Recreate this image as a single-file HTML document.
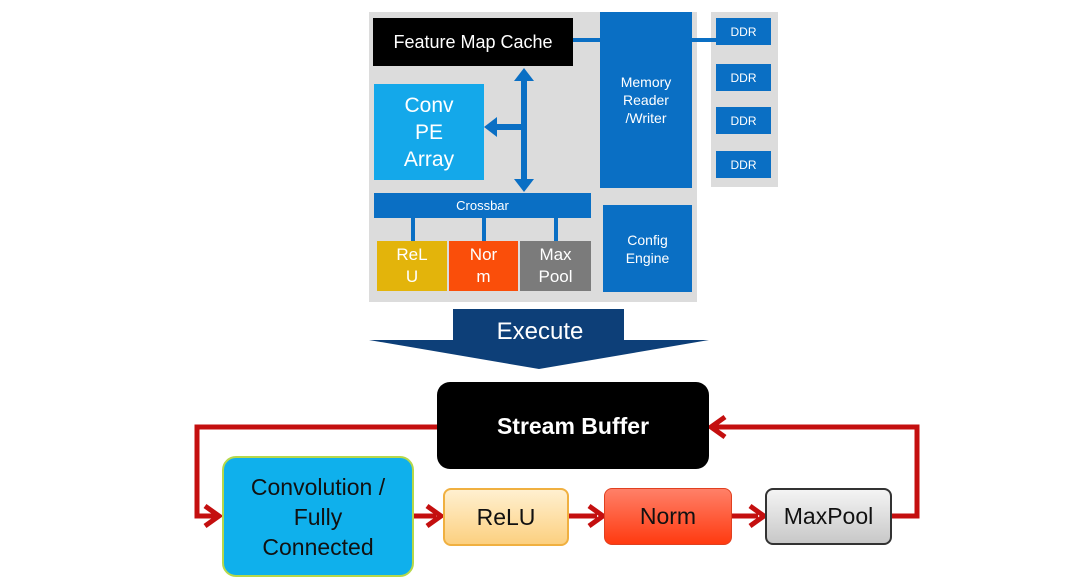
<!DOCTYPE html>
<html><head><style>
body{margin:0;width:1080px;height:582px;background:#fff;position:relative;overflow:hidden;font-family:"Liberation Sans",sans-serif}
.a{position:absolute;box-sizing:border-box;display:flex;align-items:center;justify-content:center;text-align:center;color:#fff}
.b{background:#0a6fc4}
</style></head><body>
<div class="a" style="left:369px;top:12px;width:328px;height:290px;background:#dcdcdc"></div>
<div class="a" style="left:711px;top:12px;width:67px;height:175px;background:#dcdcdc"></div>
<div class="a" style="left:570px;top:38px;width:146px;height:4px;background:#0a6fc4"></div>
<div class="a" style="left:373px;top:18px;width:200px;height:48px;background:#000;font-size:18px">Feature Map Cache</div>
<div class="a b" style="left:600px;top:12px;width:92px;height:176px;font-size:14px;line-height:18px">Memory<br>Reader<br>/Writer</div>
<div class="a b" style="left:716px;top:18px;width:55px;height:27px;font-size:12px">DDR</div>
<div class="a b" style="left:716px;top:64px;width:55px;height:27px;font-size:12px">DDR</div>
<div class="a b" style="left:716px;top:107px;width:55px;height:27px;font-size:12px">DDR</div>
<div class="a b" style="left:716px;top:151px;width:55px;height:27px;font-size:12px">DDR</div>
<div class="a" style="left:374px;top:84px;width:110px;height:96px;background:#14a8ea;font-size:21px;line-height:27px">Conv<br>PE<br>Array</div>
<svg style="position:absolute;left:0;top:0" width="1080" height="582">
<g fill="#0a6fc4">
<rect x="521" y="80" width="6" height="100"/>
<polygon points="524,68 514,81 534,81"/>
<polygon points="524,192 514,179 534,179"/>
<rect x="495" y="124" width="28" height="6"/>
<polygon points="484,127 497,117 497,137"/>
<rect x="411" y="216" width="4" height="26"/><rect x="482" y="216" width="4" height="26"/><rect x="554" y="216" width="4" height="26"/>
</g>
<rect x="453" y="309" width="171" height="32" fill="#0d3f78"/>
<polygon points="369,340 709,340 539,369" fill="#0d3f78"/>
<g fill="none" stroke="#c40f0f" stroke-width="5">
<polyline points="437,427 197,427 197,516 215,516"/>
<polyline points="892,516 917,516 917,427 715,427"/>
<line x1="414" y1="516" x2="436" y2="516"/><line x1="569" y1="516" x2="597" y2="516"/><line x1="732" y1="516" x2="758" y2="516"/>
<polyline points="205,506 219,516 205,526"/>
<polyline points="427,506 441,516 427,526"/>
<polyline points="589,506 603,516 589,526"/>
<polyline points="750,506 764,516 750,526"/>
<polyline points="725,417 711,427 725,437"/>
</g>
</svg>
<div class="a" style="left:490px;top:316px;width:100px;height:32px;font-size:24px">Execute</div>
<div class="a b" style="left:374px;top:193px;width:217px;height:25px;font-size:13px">Crossbar</div>
<div class="a" style="left:377px;top:241px;width:70px;height:50px;background:#e3b40b;font-size:17px;line-height:22px">ReL<br>U</div>
<div class="a" style="left:449px;top:241px;width:69px;height:50px;background:#fa4e0a;font-size:17px;line-height:22px">Nor<br>m</div>
<div class="a" style="left:520px;top:241px;width:71px;height:50px;background:#7b7b7b;font-size:17px;line-height:22px">Max<br>Pool</div>
<div class="a b" style="left:603px;top:205px;width:89px;height:87px;font-size:14px;line-height:18px">Config<br>Engine</div>
<div class="a" style="left:437px;top:382px;width:272px;height:87px;background:#000;border-radius:13px;font-size:23px;font-weight:bold;padding-top:2px">Stream Buffer</div>
<div class="a" style="left:222px;top:456px;width:192px;height:121px;background:#0fb0ec;border:2px solid #b6d84a;border-radius:14px;color:#111;font-size:23px;line-height:30px">Convolution /<br>Fully<br>Connected</div>
<div class="a" style="left:443px;top:488px;width:126px;height:58px;background:linear-gradient(#fff0d0,#fcd080);border:2px solid #f0b040;border-radius:8px;color:#111;font-size:23px">ReLU</div>
<div class="a" style="left:604px;top:488px;width:128px;height:57px;background:linear-gradient(#ff8068,#ff3a10);border:1px solid #e04020;border-radius:8px;color:#111;font-size:23px">Norm</div>
<div class="a" style="left:765px;top:488px;width:127px;height:57px;background:linear-gradient(#f4f4f4,#c8c8c8);border:2px solid #333;border-radius:8px;color:#111;font-size:23px">MaxPool</div>
</body></html>
